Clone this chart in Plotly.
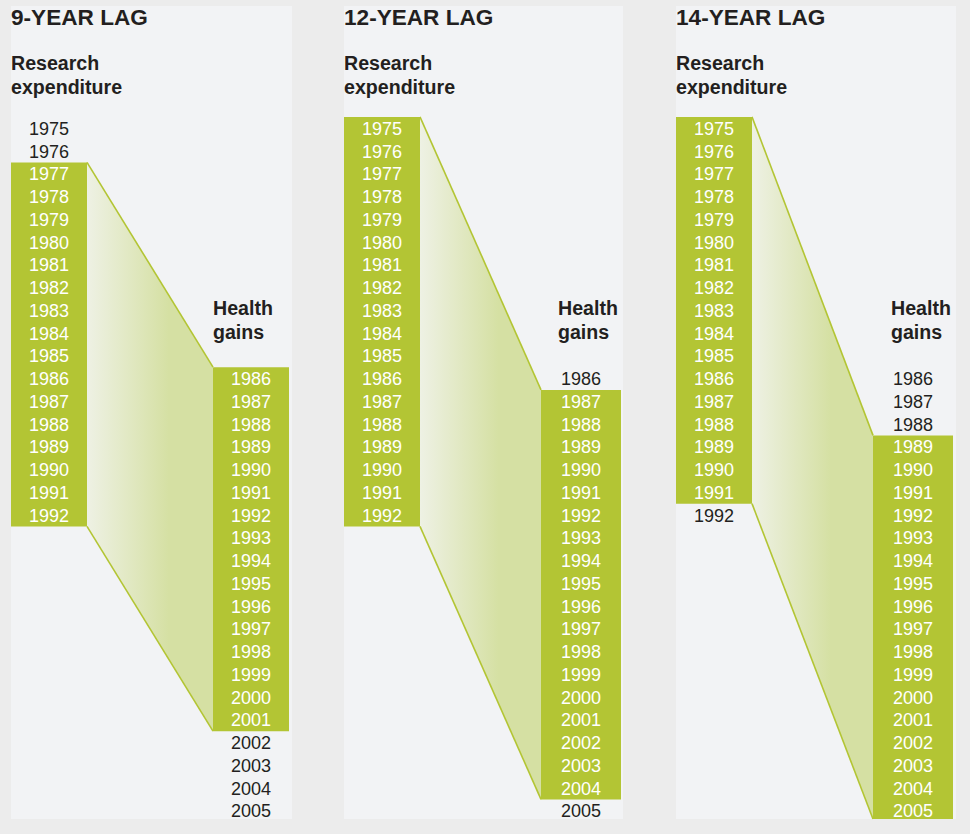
import plotly.graph_objects as go

# ---------------- data ----------------
research_years = list(range(1975, 1993))      # 1975..1992
health_years = list(range(1986, 2006))        # 1986..2005
lags = [9, 12, 14]
panel_titles = ["9-YEAR LAG", "12-YEAR LAG", "14-YEAR LAG"]
research_start = [1977, 1975, 1975]
research_end = [1992, 1992, 1991]
research_label = ["Research", "expenditure"]
health_label = ["Health", "gains"]

# ---------------- style / layout constants ----------------
W, H = 970, 834
ROW_PX = 22.75
FIRST_ROW_PX = 128.25
Y_TOP = research_years[0] - FIRST_ROW_PX / ROW_PX
Y_BOT = research_years[0] + (H - FIRST_ROW_PX) / ROW_PX
TEXT_DY = 2.0 / ROW_PX          # small baseline nudge for the year labels

GREEN = "#b3c534"
GRAD_LIGHT = "#eef1e4"
GRAD_DARK = "#d5e0a3"
PANEL_BG = "#f2f3f5"
OUTER_BG = "#ececec"
DARK = "#231f20"
FONT = "Liberation Sans, Arial, Helvetica, sans-serif"

# panel geometry in pixel x units
panels = [
    dict(px0=11, px1=292, lx0=11, lx1=87, rx0=213, rx1=289, hx=213),
    dict(px0=344, px1=623, lx0=344, lx1=420, rx0=541, rx1=621, hx=558),
    dict(px0=676, px1=956, lx0=676, lx1=752, rx0=873, rx1=953, hx=891),
]
PANEL_TOP_PX, PANEL_BOT_PX = 6, 819
TEXT_PAD = 2  # annotation inner padding compensation


def py(px):
    """pixel row -> y data value"""
    return Y_TOP + px / ROW_PX


fig = go.Figure()
shapes = []
annotations = []

for i, p in enumerate(panels):
    lag = lags[i]
    rs, re_ = research_start[i], research_end[i]
    hs, he = rs + lag, re_ + lag
    y_panel_top, y_panel_bot = py(PANEL_TOP_PX), py(PANEL_BOT_PX)

    # panel background
    shapes.append(dict(type="rect", xref="x", yref="y", layer="below",
                       x0=p["px0"], x1=p["px1"], y0=y_panel_top, y1=y_panel_bot,
                       fillcolor=PANEL_BG, line=dict(width=0)))
    # research box
    shapes.append(dict(type="rect", xref="x", yref="y", layer="below",
                       x0=p["lx0"], x1=p["lx1"], y0=rs - 0.5, y1=min(re_ + 0.5, y_panel_bot),
                       fillcolor=GREEN, line=dict(width=0)))
    # health box
    hb = min(he + 0.5, y_panel_bot)
    shapes.append(dict(type="rect", xref="x", yref="y", layer="below",
                       x0=p["rx0"], x1=p["rx1"], y0=hs - 0.5, y1=hb,
                       fillcolor=GREEN, line=dict(width=0)))

    # gradient connector
    fig.add_trace(go.Scatter(
        x=[p["lx1"], p["rx0"], p["rx0"], p["lx1"], p["lx1"]],
        y=[rs - 0.5, hs - 0.5, hb, re_ + 0.5, rs - 0.5],
        mode="lines", line=dict(width=0, color="rgba(0,0,0,0)"),
        fill="toself",
        fillgradient=dict(type="horizontal",
                          colorscale=[[0, GRAD_LIGHT], [0.65, GRAD_DARK], [1, GRAD_DARK]]),
        hoverinfo="skip", showlegend=False))
    fig.add_trace(go.Scatter(
        x=[p["lx1"], p["rx0"], None, p["lx1"], p["rx0"]],
        y=[rs - 0.5, hs - 0.5, None, re_ + 0.5, hb],
        mode="lines", line=dict(width=1.6, color=GREEN),
        hoverinfo="skip", showlegend=False))

    # year labels
    lcx = (p["lx0"] + p["lx1"]) / 2
    rcx = (p["rx0"] + p["rx1"]) / 2
    fig.add_trace(go.Scatter(
        x=[lcx] * len(research_years), y=[y + TEXT_DY for y in research_years], mode="text",
        text=[str(y) for y in research_years],
        textfont=dict(family=FONT, size=18,
                      color=["white" if rs <= y <= re_ else DARK for y in research_years]),
        hoverinfo="skip", showlegend=False))
    fig.add_trace(go.Scatter(
        x=[rcx] * len(health_years), y=[y + TEXT_DY for y in health_years], mode="text",
        text=[str(y) for y in health_years],
        textfont=dict(family=FONT, size=18,
                      color=["white" if hs <= y <= he else DARK for y in health_years]),
        hoverinfo="skip", showlegend=False))

    # titles / headings
    annotations.append(dict(x=p["px0"] - TEXT_PAD, y=py(17), xref="x", yref="y",
                            text=panel_titles[i],
                            showarrow=False, xanchor="left", yanchor="middle",
                            font=dict(family=FONT, size=22.6, color=DARK, weight="bold")))
    for k, t in enumerate(research_label):
        annotations.append(dict(x=p["px0"] - TEXT_PAD, y=py(63 + 23.5 * k), xref="x", yref="y",
                                text=t, showarrow=False, xanchor="left", yanchor="middle",
                                font=dict(family=FONT, size=19.6, color=DARK, weight="bold")))
    for k, t in enumerate(health_label):
        annotations.append(dict(x=p["hx"] - TEXT_PAD, y=py(308 + 24 * k), xref="x", yref="y",
                                text=t, showarrow=False, xanchor="left", yanchor="middle",
                                font=dict(family=FONT, size=19.6, color=DARK, weight="bold")))

fig.update_layout(
    width=W, height=H,
    margin=dict(l=0, r=0, t=0, b=0),
    paper_bgcolor=OUTER_BG, plot_bgcolor=OUTER_BG,
    shapes=shapes, annotations=annotations,
    xaxis=dict(range=[0, W], visible=False, fixedrange=True),
    yaxis=dict(range=[Y_BOT, Y_TOP], visible=False, fixedrange=True),
    showlegend=False,
)

fig.write_html("out.html", config={"displayModeBar": False},
               post_script="document.body.style.margin='0';")
